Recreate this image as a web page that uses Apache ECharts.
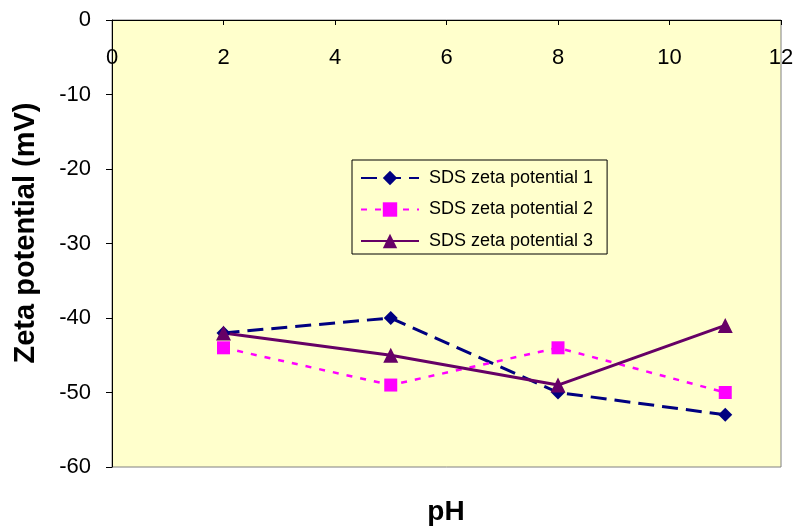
<!DOCTYPE html>
<html><head><meta charset="utf-8">
<script src="https://cdn.jsdelivr.net/npm/echarts@6/dist/echarts.min.js"></script>
<style>html,body{margin:0;padding:0;background:#fff}#c{width:796px;height:526px}</style>
</head><body><div id="c"></div>
<script>
var pH = [2, 5, 8, 11];
var sds1 = [-42, -40, -50, -53];
var sds2 = [-44, -49, -44, -50];
var sds3 = [-42, -45, -49, -41];
var seriesNames = ['SDS zeta potential 1', 'SDS zeta potential 2', 'SDS zeta potential 3'];
var xTicks = [0, 2, 4, 6, 8, 10, 12];
var yTicks = [0, -10, -20, -30, -40, -50, -60];
var xTitle = 'pH';
var yTitle = 'Zeta potential (mV)';

function pairs(xs, ys){ return xs.map(function(x,i){ return [x, ys[i]]; }); }

var FONT = 'Arial, Liberation Sans, sans-serif';
var chart = echarts.init(document.getElementById('c'));
chart.setOption({
  animation: false,
  textStyle: { fontFamily: FONT },
  grid: { left: 112, right: 15, top: 20, bottom: 59, containLabel: false, outerBoundsMode: 'none',
          show: true, backgroundColor: '#FFFFCC', borderColor: '#808080', borderWidth: 1 },
  xAxis: {
    type: 'value', position: 'top', min: xTicks[0], max: xTicks[xTicks.length-1], interval: 2,
    axisLine: { show: true, onZero: false, lineStyle: { color: '#000', width: 1 } },
    axisTick: { show: true, inside: true, length: 5, lineStyle: { color: '#000' } },
    axisLabel: { inside: true, margin: 27, fontSize: 22, color: '#000', showMinLabel: true, showMaxLabel: true },
    splitLine: { show: false }
  },
  yAxis: {
    type: 'value', min: yTicks[yTicks.length-1], max: yTicks[0], interval: 10,
    axisLine: { show: true, onZero: false, lineStyle: { color: '#000', width: 1 } },
    axisTick: { show: true, inside: false, length: 6, lineStyle: { color: '#000' } },
    axisLabel: { margin: 21, fontSize: 22, color: '#000' },
    splitLine: { show: false }
  },
  graphic: [
    { type: 'text', x: 446, y: 512,
      style: { text: xTitle, font: 'bold 28px ' + FONT, fill: '#000', align: 'center', verticalAlign: 'middle' } },
    { type: 'text', x: 26, y: 233, rotation: Math.PI / 2,
      style: { text: yTitle, font: 'bold 29px ' + FONT, fill: '#000', align: 'center', verticalAlign: 'middle' } }
  ],
  legend: {
    orient: 'vertical', left: 352, top: 160,
    padding: [9, 14, 4, 8], itemGap: 13.5, itemWidth: 58, itemHeight: 18,
    borderColor: '#000', borderWidth: 1, backgroundColor: '#FFFFCC',
    textStyle: { fontSize: 18, color: '#000', padding: [0, 0, 0, 5] },
    data: seriesNames
  },
  series: [
    { name: seriesNames[0], type: 'line', data: pairs(pH, sds1), symbol: 'diamond', symbolSize: 14,
      itemStyle: { color: '#000080' }, lineStyle: { color: '#000080', width: 3, type: [16, 8] } },
    { name: seriesNames[1], type: 'line', data: pairs(pH, sds2), symbol: 'rect', symbolSize: 13,
      itemStyle: { color: '#FF00FF' }, lineStyle: { color: '#FF00FF', width: 2.5, type: [6, 8] } },
    { name: seriesNames[2], type: 'line', data: pairs(pH, sds3), symbol: 'triangle', symbolSize: 15,
      itemStyle: { color: '#660066' }, lineStyle: { color: '#660066', width: 3 } }
  ]
});
</script></body></html>
